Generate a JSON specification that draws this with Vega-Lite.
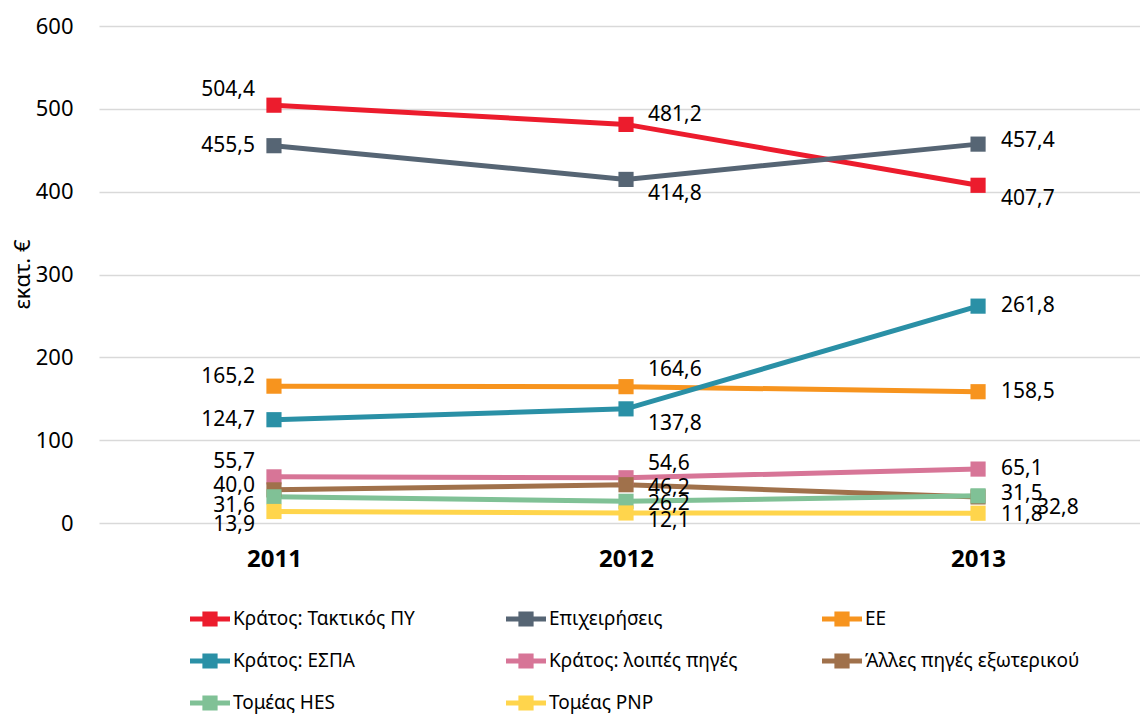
{
  "$schema": "https://vega.github.io/schema/vega-lite/v6.json",
  "width": 1041,
  "height": 497,
  "autosize": {"type": "none"},
  "padding": {"left": 99, "top": 26, "right": 0, "bottom": 195},
  "background": "white",
  "config": {
    "font": "Noto Sans",
    "view": {"stroke": null},
    "locale": {"number": {"decimal": ",", "thousands": ".", "grouping": [3], "currency": ["", " €"]}}
  },
  "data": {
    "values": [
      {"series": "Κράτος: Τακτικός ΠΥ", "year": 2011, "value": 504.4},
      {"series": "Κράτος: Τακτικός ΠΥ", "year": 2012, "value": 481.2},
      {"series": "Κράτος: Τακτικός ΠΥ", "year": 2013, "value": 407.7},
      {"series": "Επιχειρήσεις", "year": 2011, "value": 455.5},
      {"series": "Επιχειρήσεις", "year": 2012, "value": 414.8},
      {"series": "Επιχειρήσεις", "year": 2013, "value": 457.4},
      {"series": "ΕΕ", "year": 2011, "value": 165.2},
      {"series": "ΕΕ", "year": 2012, "value": 164.6},
      {"series": "ΕΕ", "year": 2013, "value": 158.5},
      {"series": "Κράτος: ΕΣΠΑ", "year": 2011, "value": 124.7},
      {"series": "Κράτος: ΕΣΠΑ", "year": 2012, "value": 137.8},
      {"series": "Κράτος: ΕΣΠΑ", "year": 2013, "value": 261.8},
      {"series": "Κράτος: λοιπές πηγές", "year": 2011, "value": 55.7},
      {"series": "Κράτος: λοιπές πηγές", "year": 2012, "value": 54.6},
      {"series": "Κράτος: λοιπές πηγές", "year": 2013, "value": 65.1},
      {"series": "Άλλες πηγές εξωτερικού", "year": 2011, "value": 40.0},
      {"series": "Άλλες πηγές εξωτερικού", "year": 2012, "value": 46.2},
      {"series": "Άλλες πηγές εξωτερικού", "year": 2013, "value": 31.5},
      {"series": "Τομέας HES", "year": 2011, "value": 31.6},
      {"series": "Τομέας HES", "year": 2012, "value": 26.2},
      {"series": "Τομέας HES", "year": 2013, "value": 32.8},
      {"series": "Τομέας PNP", "year": 2011, "value": 13.9},
      {"series": "Τομέας PNP", "year": 2012, "value": 12.1},
      {"series": "Τομέας PNP", "year": 2013, "value": 11.8}
    ]
  },
  "encoding": {
    "x": {
      "field": "year", "type": "quantitative",
      "scale": {"domain": [2010.503, 2013.46], "nice": false, "zero": false},
      "axis": {"values": [2011, 2012, 2013], "format": "d", "title": null, "grid": false, "domain": false, "ticks": false,
        "labelFontSize": 24, "labelFontWeight": "bold", "labelColor": "#000000", "labelPadding": 24, "labelFlush": false}
    },
    "y": {
      "field": "value", "type": "quantitative",
      "scale": {"domain": [0, 600], "nice": false},
      "axis": {"values": [0, 100, 200, 300, 400, 500, 600], "format": "d", "title": "εκατ. €", "titleFontSize": 22, "titleFontWeight": "normal",
        "titleColor": "#000000", "titleX": -77, "titleY": 248, "titleAngle": 270, "titleAlign": "center", "titleBaseline": "middle",
        "domain": false, "ticks": false, "grid": true, "gridColor": "#d9d9d9", "gridWidth": 1.5,
        "labelFontSize": 22, "labelColor": "#000000", "labelPadding": 26}
    },
    "color": {
      "field": "series", "type": "nominal",
      "sort": ["Κράτος: Τακτικός ΠΥ", "Επιχειρήσεις", "ΕΕ", "Κράτος: ΕΣΠΑ", "Κράτος: λοιπές πηγές", "Άλλες πηγές εξωτερικού", "Τομέας HES", "Τομέας PNP"],
      "scale": {
        "domain": ["Κράτος: Τακτικός ΠΥ", "Επιχειρήσεις", "ΕΕ", "Κράτος: ΕΣΠΑ", "Κράτος: λοιπές πηγές", "Άλλες πηγές εξωτερικού", "Τομέας HES", "Τομέας PNP"],
        "range": ["#ec1c2d", "#566574", "#f7941e", "#2a90a6", "#d77597", "#a0714b", "#80c196", "#ffd54c"]
      },
      "legend": {
        "title": null, "orient": "none", "legendX": 91, "legendY": 573, "direction": "horizontal", "columns": 3,
        "gridAlign": "all", "columnPadding": 58, "rowPadding": 12, "padding": 0,
        "symbolType": "M-1,-0.13H1V0.13H-1Z M-0.38,-0.38H0.38V0.38H-0.38Z", "symbolSize": 1600, "symbolStrokeWidth": 0,
        "labelFontSize": 19, "labelColor": "#000000", "labelOffset": 3, "labelLimit": 400,
        "encode": {"symbols": {"update": {"fill": {"scale": "color", "field": "value"}, "stroke": {"value": "transparent"}, "opacity": {"value": 1}}}}
      }
    }
  },
  "layer": [
    {"mark": {"type": "line", "strokeWidth": 5}},
    {"mark": {"type": "point", "shape": "square", "filled": true, "size": 230, "opacity": 1}},
    {"transform": [{"filter": "datum.year == 2011 && indexof(['Κράτος: Τακτικός ΠΥ','Κράτος: λοιπές πηγές'], datum.series) >= 0"}],
     "mark": {"type": "text", "align": "right", "baseline": "middle", "dx": -19, "dy": -15, "fontSize": 21, "color": "#000000"},
     "encoding": {"text": {"field": "value", "format": ".1f"}, "color": {"value": "#000000"}}},
    {"transform": [{"filter": "datum.year == 2011 && indexof(['Επιχειρήσεις','Κράτος: ΕΣΠΑ'], datum.series) >= 0"}],
     "mark": {"type": "text", "align": "right", "baseline": "middle", "dx": -19, "dy": 0, "fontSize": 21},
     "encoding": {"text": {"field": "value", "format": ".1f"}, "color": {"value": "#000000"}}},
    {"transform": [{"filter": "datum.year == 2011 && datum.series == 'ΕΕ'"}],
     "mark": {"type": "text", "align": "right", "baseline": "middle", "dx": -19, "dy": -9, "fontSize": 21},
     "encoding": {"text": {"field": "value", "format": ".1f"}, "color": {"value": "#000000"}}},
    {"transform": [{"filter": "datum.year == 2011 && datum.series == 'Άλλες πηγές εξωτερικού'"}],
     "mark": {"type": "text", "align": "right", "baseline": "middle", "dx": -19, "dy": -4, "fontSize": 21},
     "encoding": {"text": {"field": "value", "format": ".1f"}, "color": {"value": "#000000"}}},
    {"transform": [{"filter": "datum.year == 2011 && datum.series == 'Τομέας HES'"}],
     "mark": {"type": "text", "align": "right", "baseline": "middle", "dx": -19, "dy": 9, "fontSize": 21},
     "encoding": {"text": {"field": "value", "format": ".1f"}, "color": {"value": "#000000"}}},
    {"transform": [{"filter": "datum.year == 2011 && datum.series == 'Τομέας PNP'"}],
     "mark": {"type": "text", "align": "right", "baseline": "middle", "dx": -19, "dy": 14, "fontSize": 21},
     "encoding": {"text": {"field": "value", "format": ".1f"}, "color": {"value": "#000000"}}},
    {"transform": [{"filter": "datum.year == 2012 && datum.series == 'Κράτος: Τακτικός ΠΥ'"}],
     "mark": {"type": "text", "align": "left", "baseline": "middle", "dx": 22, "dy": -9, "fontSize": 21},
     "encoding": {"text": {"field": "value", "format": ".1f"}, "color": {"value": "#000000"}}},
    {"transform": [{"filter": "datum.year == 2012 && indexof(['Επιχειρήσεις','Κράτος: ΕΣΠΑ'], datum.series) >= 0"}],
     "mark": {"type": "text", "align": "left", "baseline": "middle", "dx": 22, "dy": 15, "fontSize": 21},
     "encoding": {"text": {"field": "value", "format": ".1f"}, "color": {"value": "#000000"}}},
    {"transform": [{"filter": "datum.year == 2012 && datum.series == 'ΕΕ'"}],
     "mark": {"type": "text", "align": "left", "baseline": "middle", "dx": 22, "dy": -17, "fontSize": 21},
     "encoding": {"text": {"field": "value", "format": ".1f"}, "color": {"value": "#000000"}}},
    {"transform": [{"filter": "datum.year == 2012 && datum.series == 'Κράτος: λοιπές πηγές'"}],
     "mark": {"type": "text", "align": "left", "baseline": "middle", "dx": 22, "dy": -14, "fontSize": 21},
     "encoding": {"text": {"field": "value", "format": ".1f"}, "color": {"value": "#000000"}}},
    {"transform": [{"filter": "datum.year == 2012 && indexof(['Άλλες πηγές εξωτερικού','Τομέας HES'], datum.series) >= 0"}],
     "mark": {"type": "text", "align": "left", "baseline": "middle", "dx": 22, "dy": 3, "fontSize": 21},
     "encoding": {"text": {"field": "value", "format": ".1f"}, "color": {"value": "#000000"}}},
    {"transform": [{"filter": "datum.year == 2012 && datum.series == 'Τομέας PNP'"}],
     "mark": {"type": "text", "align": "left", "baseline": "middle", "dx": 22, "dy": 8, "fontSize": 21},
     "encoding": {"text": {"field": "value", "format": ".1f"}, "color": {"value": "#000000"}}},
    {"transform": [{"filter": "datum.year == 2013 && indexof(['Επιχειρήσεις','Άλλες πηγές εξωτερικού'], datum.series) >= 0"}],
     "mark": {"type": "text", "align": "left", "baseline": "middle", "dx": 23, "dy": -3, "fontSize": 21},
     "encoding": {"text": {"field": "value", "format": ".1f"}, "color": {"value": "#000000"}}},
    {"transform": [{"filter": "datum.year == 2013 && datum.series == 'Κράτος: Τακτικός ΠΥ'"}],
     "mark": {"type": "text", "align": "left", "baseline": "middle", "dx": 23, "dy": 14, "fontSize": 21},
     "encoding": {"text": {"field": "value", "format": ".1f"}, "color": {"value": "#000000"}}},
    {"transform": [{"filter": "datum.year == 2013 && indexof(['Κράτος: ΕΣΠΑ','ΕΕ','Κράτος: λοιπές πηγές'], datum.series) >= 0"}],
     "mark": {"type": "text", "align": "left", "baseline": "middle", "dx": 23, "dy": 0, "fontSize": 21},
     "encoding": {"text": {"field": "value", "format": ".1f"}, "color": {"value": "#000000"}}},
    {"transform": [{"filter": "datum.year == 2013 && datum.series == 'Τομέας PNP'"}],
     "mark": {"type": "text", "align": "left", "baseline": "middle", "dx": 23, "dy": 2, "fontSize": 21},
     "encoding": {"text": {"field": "value", "format": ".1f"}, "color": {"value": "#000000"}}},
    {"transform": [{"filter": "datum.year == 2013 && datum.series == 'Τομέας HES'"}],
     "mark": {"type": "text", "align": "left", "baseline": "middle", "dx": 59, "dy": 12, "fontSize": 21},
     "encoding": {"text": {"field": "value", "format": ".1f"}, "color": {"value": "#000000"}}}
  ]
}
